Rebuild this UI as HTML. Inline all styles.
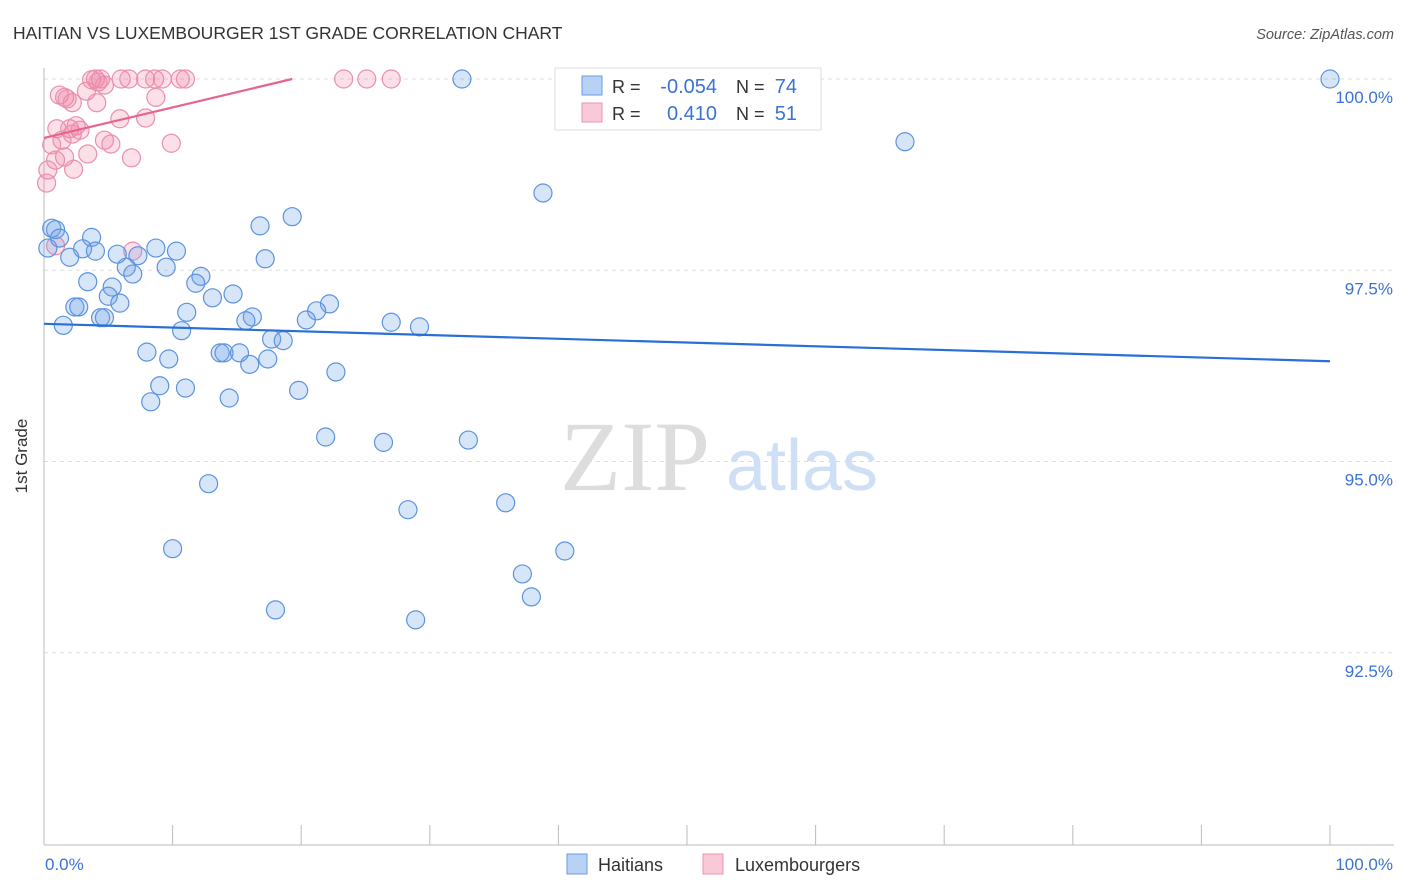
<!DOCTYPE html>
<html><head><meta charset="utf-8"><style>
body{margin:0;background:#fff;font-family:"Liberation Sans",sans-serif;}
svg{display:block}
</style></head><body>
<svg width="1406" height="892" viewBox="0 0 1406 892" id="chart">
<text x="13" y="39" font-size="17.5" fill="#333">HAITIAN VS LUXEMBOURGER 1ST GRADE CORRELATION CHART</text>
<text x="1394" y="39" font-size="14.5" fill="#555" font-style="italic" text-anchor="end">Source: ZipAtlas.com</text>
<g>
<text x="635" y="490" font-size="100" font-family="Liberation Serif,serif" fill="#ddd" text-anchor="middle">ZIP</text>
<text x="802" y="490" font-size="72" fill="#cfdff5" text-anchor="middle">atlas</text>
</g>
<g id="grid"></g>
<line x1="44" y1="68" x2="44" y2="845" stroke="#bbb"/>
<line x1="44" y1="845" x2="1394" y2="845" stroke="#bbb"/>
<g id="xticks"></g>
<text x="27" y="456" font-size="17" fill="#333" text-anchor="middle" transform="rotate(-90 27 456)">1st Grade</text>
<text x="45" y="870" font-size="17" fill="#3b73d4">0.0%</text>
<text x="1393" y="870" font-size="17" fill="#3b73d4" text-anchor="end">100.0%</text>
<g id="pts"></g>
<g id="trends"></g>
<g>
<rect x="555" y="68" width="266" height="62" fill="#fff" stroke="#ddd"/>
<rect x="582" y="76" width="20" height="19" fill="#b8d2f5" stroke="#6a9be0"/>
<rect x="582" y="103" width="20" height="19" fill="#f9c9d8" stroke="#ec93b0"/>
<text x="612" y="93" font-size="18" fill="#333">R =</text>
<text x="717" y="93" font-size="20" fill="#3b73d4" text-anchor="end">-0.054</text>
<text x="736" y="93" font-size="18" fill="#333">N =</text>
<text x="797" y="93" font-size="20" fill="#3b73d4" text-anchor="end">74</text>
<text x="612" y="120" font-size="18" fill="#333">R =</text>
<text x="717" y="120" font-size="20" fill="#3b73d4" text-anchor="end">0.410</text>
<text x="736" y="120" font-size="18" fill="#333">N =</text>
<text x="797" y="120" font-size="20" fill="#3b73d4" text-anchor="end">51</text>
</g>
<g>
<rect x="567" y="854" width="20" height="20" fill="#b8d2f5" stroke="#6a9be0"/>
<text x="598" y="871" font-size="18" fill="#333">Haitians</text>
</g>
<g>
<rect x="703" y="854" width="20" height="20" fill="#f9c9d8" stroke="#ec93b0"/>
<text x="735" y="871" font-size="18" fill="#333">Luxembourgers</text>
</g>
</svg>
<script>
const yTicks=[100,97.5,95,92.5];
const yTickLabels=["100.0%","97.5%","95.0%","92.5%"];
const xTicks=[0,10,20,30,40,50,60,70,80,90,100];
const blueX=[32.5,100,66.95,38.8,19.3,16.8,0.6,0.9,1.2,3.7,3.0,4.0,2.0,5.7,7.3,8.7,10.3,17.2,6.4,6.9,9.5,3.4,12.2,11.8,5.3,5.0,13.1,14.7,5.9,2.4,2.7,11.1,22.2,21.2,16.2,4.4,4.7,15.7,20.4,27.0,29.2,1.5,10.7,17.7,18.6,8.0,13.7,14.0,15.2,9.7,17.4,16.0,22.7,9.0,11.0,19.8,8.3,14.4,21.9,26.4,33.0,12.8,28.3,35.9,10.0,40.5,37.2,37.9,18.0,28.9,0.3];
const blueY=[100,100,99.18,98.51,98.20,98.08,98.05,98.03,97.92,97.93,97.78,97.75,97.67,97.71,97.69,97.79,97.75,97.65,97.54,97.45,97.54,97.35,97.42,97.33,97.28,97.16,97.14,97.19,97.07,97.02,97.02,96.95,97.06,96.97,96.89,96.88,96.88,96.84,96.85,96.82,96.76,96.78,96.71,96.60,96.58,96.43,96.42,96.42,96.42,96.34,96.34,96.27,96.17,95.99,95.96,95.93,95.78,95.83,95.32,95.25,95.28,94.71,94.37,94.46,93.86,93.83,93.53,93.23,93.06,92.93,97.79];
const pinkX=[4.0,4.4,3.7,4.2,4.7,6.0,6.6,7.9,8.6,9.2,10.6,11.0,23.3,25.1,27.0,1.2,1.6,1.8,2.2,3.3,4.1,8.7,5.9,7.9,1.0,2.0,2.5,2.8,2.2,1.4,0.6,4.7,5.2,9.9,3.4,1.6,0.9,6.8,2.3,0.3,0.2,6.9,0.9];
const pinkY=[100,100,99.99,99.96,99.92,100,100,100,100,100,100,100,100,100,100,99.79,99.76,99.74,99.69,99.84,99.69,99.76,99.48,99.49,99.35,99.35,99.39,99.33,99.28,99.20,99.14,99.20,99.15,99.16,99.02,98.98,98.94,98.97,98.82,98.81,98.64,97.75,97.82];
const blueTrend=[96.80,96.31];
const pinkTrend=[99.23,100.0,19.3];
const NS="http://www.w3.org/2000/svg";
const xs=v=>44+v*12.86;
const ys=v=>79+(100-v)*76.5;
function mk(tag,attrs,parent){const e=document.createElementNS(NS,tag);for(const k in attrs)e.setAttribute(k,attrs[k]);parent.appendChild(e);return e;}
const grid=document.getElementById('grid');
yTicks.forEach((t,i)=>{
 const l=mk('line',{x1:44,x2:1394,y1:ys(t),y2:ys(t),stroke:'#ddd','stroke-dasharray':'4,4'},grid);
 
 
 const tx=mk('text',{x:1393,y:ys(t)+24,'font-size':17,fill:'#3b73d4','text-anchor':'end'},grid);
 tx.textContent=yTickLabels[i];
 
 
});
const xt=document.getElementById('xticks');
xTicks.forEach(t=>{
 const l=mk('line',{x1:xs(t),x2:xs(t),y1:825,y2:845,stroke:'#bbb'},xt);
 
 
});
const pts=document.getElementById('pts');
pinkX.forEach((x,i)=>{
 const c=mk('circle',{cx:xs(x),cy:ys(pinkY[i]),r:9,fill:'rgba(240,130,165,0.25)',stroke:'#ea8fae','stroke-width':1.2},pts);
 
 
});
blueX.forEach((x,i)=>{
 const c=mk('circle',{cx:xs(x),cy:ys(blueY[i]),r:9,fill:'rgba(110,160,230,0.28)',stroke:'#5c93df','stroke-width':1.2},pts);
 
 
});
const tr=document.getElementById('trends');
const bl=mk('line',{x1:xs(0),y1:ys(blueTrend[0]),x2:xs(100),y2:ys(blueTrend[1]),stroke:'#2a6fd6','stroke-width':2.2},tr);


const pl=mk('line',{x1:xs(0),y1:ys(pinkTrend[0]),x2:xs(pinkTrend[2]),y2:ys(pinkTrend[1]),stroke:'#e8648e','stroke-width':2.2},tr);


</script>
</body></html>
